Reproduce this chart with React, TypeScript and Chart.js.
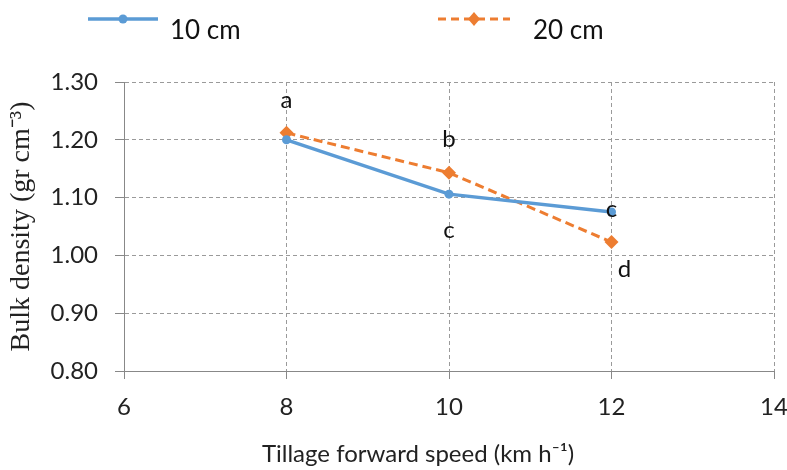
import React, { useEffect, useRef } from 'react';
import { Chart, registerables } from 'chart.js';

Chart.register(...registerables);

const speeds = [8, 10, 12];
const density10 = [1.2, 1.106, 1.075];
const density20 = [1.212, 1.143, 1.023];
const letters10 = ['', 'c', 'c'];
const letters20 = ['a', 'b', 'd'];
const seriesNames = ['10 cm', '20 cm'];
const xTitle = 'Tillage forward speed (km h\u207B\u00B9)';
const yTitle = 'Bulk density (gr cm\u207B\u00B3)';

const BLUE = '#5B9BD5';
const ORANGE = '#ED7D31';
const SANS = 'Lato, "Open Sans", sans-serif';

const letterOffsets: Record<number, ([number, number] | null)[]> = {
  0: [null, [0, 44], [0, 5]],
  1: [[0, -25], [0, -26], [13, 35]],
};

const lettersPlugin = {
  id: 'letters',
  afterDatasetsDraw(chart: any) {
    const ctx = chart.ctx;
    const xs = chart.scales.x;
    const ys = chart.scales.y;
    const sets = [letters10, letters20];
    const vals = [density10, density20];
    ctx.save();
    ctx.font = `24px ${SANS}`;
    ctx.fillStyle = '#111';
    ctx.textAlign = 'center';
    ctx.textBaseline = 'alphabetic';
    sets.forEach((letters, di) => {
      letters.forEach((l, i) => {
        const off = letterOffsets[di][i];
        if (!l || !off) return;
        const px = xs.getPixelForValue(speeds[i]);
        const py = ys.getPixelForValue(vals[di][i]);
        ctx.fillText(l, px + off[0], py + off[1]);
      });
    });
    ctx.restore();
  },
};

const legendPlugin = {
  id: 'customLegend',
  afterDraw(chart: any) {
    const ctx = chart.ctx;
    ctx.save();
    ctx.strokeStyle = BLUE;
    ctx.lineWidth = 3.5;
    ctx.beginPath();
    ctx.moveTo(88, 19);
    ctx.lineTo(158, 19);
    ctx.stroke();
    ctx.fillStyle = BLUE;
    ctx.beginPath();
    ctx.arc(123, 19, 4.5, 0, Math.PI * 2);
    ctx.fill();
    ctx.strokeStyle = ORANGE;
    ctx.lineWidth = 3;
    ctx.setLineDash([8, 5]);
    ctx.beginPath();
    ctx.moveTo(438, 19);
    ctx.lineTo(510, 19);
    ctx.stroke();
    ctx.setLineDash([]);
    ctx.fillStyle = ORANGE;
    ctx.beginPath();
    ctx.moveTo(474, 12);
    ctx.lineTo(480, 19);
    ctx.lineTo(474, 26);
    ctx.lineTo(468, 19);
    ctx.closePath();
    ctx.fill();
    ctx.fillStyle = '#111';
    ctx.font = `26px ${SANS}`;
    ctx.textBaseline = 'middle';
    ctx.textAlign = 'left';
    ctx.fillText(seriesNames[0], 170, 31);
    ctx.fillText(seriesNames[1], 533, 31);
    // x axis title
    ctx.fillStyle = '#222';
    ctx.font = `24px ${SANS}`;
    ctx.textAlign = 'center';
    ctx.textBaseline = 'alphabetic';
    ctx.fillText(xTitle, 418, 462);
    ctx.restore();
  },
};

export default function App() {
  const ref = useRef<HTMLCanvasElement>(null);
  useEffect(() => {
    if (!ref.current) return;
    const chart = new Chart(ref.current, {
      type: 'line',
      data: {
        datasets: [
          {
            label: seriesNames[0],
            data: speeds.map((x, i) => ({ x, y: density10[i] })),
            borderColor: BLUE,
            backgroundColor: BLUE,
            borderWidth: 3.5,
            pointRadius: 4.5,
            pointStyle: 'circle',
            pointBorderWidth: 0,
            tension: 0,
          },
          {
            label: seriesNames[1],
            data: speeds.map((x, i) => ({ x, y: density20[i] })),
            borderColor: ORANGE,
            backgroundColor: ORANGE,
            borderWidth: 3,
            borderDash: [9, 5],
            pointRadius: 7,
            pointStyle: 'rectRot',
            pointBorderWidth: 0,
            tension: 0,
          },
        ],
      },
      options: {
        animation: false,
        responsive: false,
        maintainAspectRatio: false,
        layout: { padding: { left: 0, top: 82, right: 13, bottom: 0 } },
        plugins: { legend: { display: false }, tooltip: { enabled: false } },
        scales: {
          x: {
            type: 'linear',
            min: 6,
            max: 14,
            afterFit: (s: any) => {
              s.height = 99;
              s.paddingRight = 0;
              s.paddingLeft = 0;
            },
            ticks: {
              stepSize: 2,
              font: { family: SANS, size: 24 },
              color: '#222',
              padding: 14,
              maxRotation: 0,
            },
            grid: { color: '#9a9a9a', lineWidth: 1, tickLength: 8, tickColor: '#888' },
            border: { color: '#888', width: 1, dash: [4, 3] },
            title: { display: false, text: xTitle },
          },
          y: {
            min: 0.8,
            max: 1.3,
            afterFit: (s: any) => {
              s.width = 124;
              s.paddingTop = 0;
              s.paddingBottom = 0;
            },
            ticks: {
              stepSize: 0.1,
              callback: (v: any) => Number(v).toFixed(2),
              font: { family: SANS, size: 24 },
              color: '#222',
              padding: 17,
            },
            grid: { color: '#9a9a9a', lineWidth: 1, tickLength: 9, tickColor: '#888' },
            border: { color: '#888', width: 1, dash: [4, 3] },
            title: {
              display: true,
              text: yTitle,
              font: { family: '"Liberation Serif", "Times New Roman", serif', size: 28 },
              color: '#222',
              padding: { top: 5, bottom: 0 },
            },
          },
        },
      },
      plugins: [lettersPlugin, legendPlugin],
    });
    return () => chart.destroy();
  }, []);
  return (
    <div style={{ position: 'fixed', left: 0, top: 0, width: 787, height: 470, background: '#fff' }}>
      <canvas ref={ref} width={787} height={470} style={{ width: 787, height: 470 }} />
    </div>
  );
}
